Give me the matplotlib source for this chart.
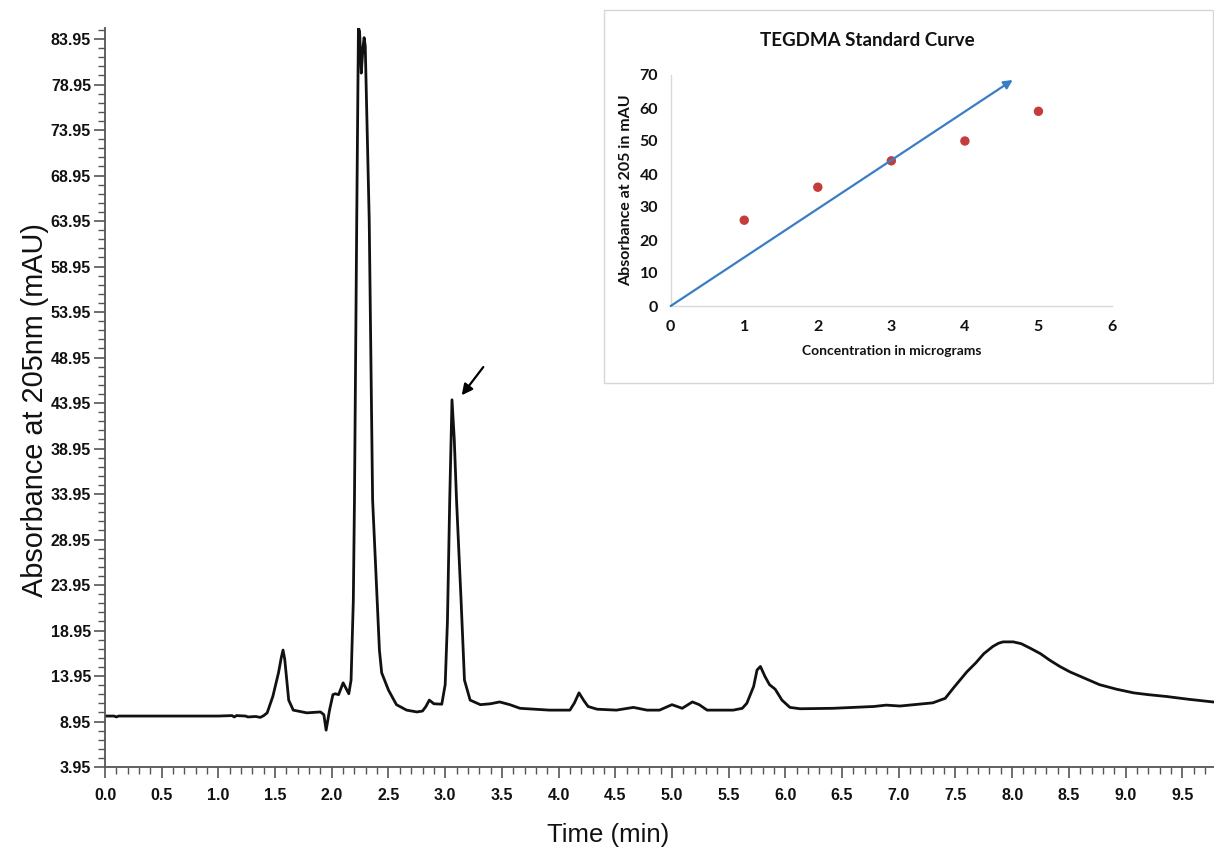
import matplotlib
matplotlib.use("Agg")
import matplotlib.pyplot as plt
from matplotlib.ticker import MultipleLocator, FixedLocator, FormatStrFormatter
from matplotlib.patches import Rectangle

# ---------------- data ----------------
time_min = [0.00, 0.08, 0.10, 0.12, 0.50, 1.00, 1.12, 1.14, 1.16, 1.24, 1.26, 1.33, 1.37,
            1.40, 1.43, 1.48, 1.53, 1.555, 1.57, 1.585, 1.60, 1.62, 1.66, 1.78, 1.90, 1.93,
            1.95, 1.98, 2.01, 2.03, 2.06, 2.10, 2.15, 2.17, 2.19, 2.20, 2.22, 2.235, 2.245,
            2.26, 2.275, 2.285, 2.295, 2.31, 2.33, 2.36, 2.40, 2.42, 2.44, 2.50, 2.57, 2.66,
            2.75, 2.80, 2.83, 2.86, 2.90, 2.97, 3.00, 3.02, 3.04, 3.06, 3.08, 3.10, 3.14,
            3.17, 3.22, 3.31, 3.40, 3.48, 3.57, 3.66, 3.92, 4.10, 4.14, 4.18, 4.22, 4.26,
            4.34, 4.51, 4.66, 4.78, 4.89, 5.00, 5.09, 5.18, 5.24, 5.31, 5.54, 5.62, 5.66, 5.72,
            5.75, 5.78, 5.82, 5.86, 5.91, 5.97, 6.04, 6.13, 6.42, 6.78, 6.89, 7.01, 7.30,
            7.41, 7.48, 7.54, 7.60, 7.68, 7.75, 7.83, 7.88, 7.92, 8.01, 8.08, 8.16, 8.25,
            8.33, 8.42, 8.51, 8.64, 8.77, 8.92, 9.07, 9.20, 9.36, 9.55, 9.77]
absorbance = [9.55, 9.55, 9.45, 9.55, 9.55, 9.55, 9.60, 9.45, 9.60, 9.55, 9.45, 9.50, 9.40,
              9.60, 9.90, 11.7, 14.3, 16.0, 16.8, 15.8, 13.9, 11.3, 10.2, 9.90, 10.0, 9.70,
              8.00, 10.2, 11.9, 12.0, 11.9, 13.2, 12.0, 13.5, 22.3, 33.3, 64.1, 85.2, 84.8,
              80.2, 83.0, 84.1, 83.2, 75.0, 64.1, 33.3, 22.3, 16.8, 14.3, 12.4, 10.8, 10.2,
              10.0, 10.1, 10.6, 11.3, 10.9, 10.85, 13.0, 20.0, 33.3, 44.3, 40.0, 33.3, 22.3,
              13.5, 11.3, 10.8, 10.9, 11.1, 10.8, 10.4, 10.2, 10.2, 11.0, 12.1, 11.3, 10.6,
              10.3, 10.2, 10.5, 10.2, 10.2, 10.8, 10.4, 11.1, 10.8, 10.2, 10.2, 10.4, 10.95, 12.8,
              14.6, 15.0, 13.9, 13.0, 12.5, 11.3, 10.5, 10.35, 10.4, 10.6, 10.75, 10.65, 11.0,
              11.5, 12.6, 13.5, 14.4, 15.4, 16.4, 17.2, 17.55, 17.7, 17.7, 17.5, 17.0, 16.4,
              15.7, 15.0, 14.4, 13.7, 13.0, 12.5, 12.1, 11.9, 11.7, 11.4, 11.1]

y_ticks_main = [3.95, 8.95, 13.95, 18.95, 23.95, 28.95, 33.95, 38.95, 43.95, 48.95,
                53.95, 58.95, 63.95, 68.95, 73.95, 78.95, 83.95]
arrow_tail = (3.336, 47.9)
arrow_head = (3.146, 44.8)

# inset: standard curve
conc = [1, 2, 3, 4, 5]
std_abs = [26, 36, 44, 50, 59]
fit_start = (0, 0)
fit_end = (4.65, 68.5)

# ---------------- figure ----------------
W, H = 1214, 851
fig = plt.figure(figsize=(W / 100, H / 100), dpi=100)
main_font = "Liberation Sans"
inset_font = "Lato"

ax = fig.add_axes([105 / W, 1 - 767 / H, (1214 - 105) / W, (767 - 28) / H])
ax.plot(time_min, absorbance, color="#111111", lw=2.0, solid_joinstyle="round")
ax.set_xlim(0, 9.78)
ax.set_ylim(3.95, 85.16)
for s in ("top", "right"):
    ax.spines[s].set_visible(False)
for s in ("left", "bottom"):
    ax.spines[s].set_color("#555555")
    ax.spines[s].set_linewidth(1.3)
ax.yaxis.set_major_locator(FixedLocator(y_ticks_main))
ax.yaxis.set_minor_locator(MultipleLocator(1.0, offset=0.95))
ax.xaxis.set_major_locator(MultipleLocator(0.5))
ax.xaxis.set_minor_locator(MultipleLocator(0.1))
ax.xaxis.set_major_formatter(FormatStrFormatter("%.1f"))
ax.yaxis.set_major_formatter(FormatStrFormatter("%.2f"))
ax.tick_params(which="major", length=8, width=1.2, color="#555555", direction="out")
ax.tick_params(which="minor", length=5, width=1.0, color="#555555", direction="out")
ax.tick_params(axis="x", which="major", pad=7)
ax.tick_params(axis="y", which="major", pad=2)
for lab in ax.get_xticklabels() + ax.get_yticklabels():
    lab.set_fontfamily(main_font)
    lab.set_fontweight("bold")
    lab.set_fontsize(11.5)
    lab.set_color("#111111")
ax.set_xlabel("Time (min)", fontsize=18.5, family=main_font, color="#111111")
ax.xaxis.set_label_coords((608 - 105) / (1214 - 105), -(835 - 767) / (767 - 28) + 0.0,
                          transform=None)
ax.xaxis.label.set_verticalalignment("center")
ax.set_ylabel("Absorbance at 205nm (mAU)", fontsize=20.8, family=main_font, color="#111111")
ax.yaxis.set_label_coords(-(105 - 35) / (1214 - 105), (767 - 410) / (767 - 28))
ax.yaxis.label.set_verticalalignment("center")
ax.annotate("", xy=arrow_head, xytext=arrow_tail,
            arrowprops=dict(arrowstyle="-|>", color="black", lw=1.6, mutation_scale=16,
                            shrinkA=0, shrinkB=0))

# inset frame
frame = Rectangle((604 / W, 1 - 383 / H), (1213 - 604) / W, (383 - 10) / H,
                  transform=fig.transFigure, facecolor="white", edgecolor="#d6d6d6",
                  lw=1.0, zorder=1)
fig.add_artist(frame)

ins = fig.add_axes([670.7 / W, 1 - 306 / H, (1112 - 670.7) / W, (306 - 75) / H], zorder=2)
ins.set_facecolor("none")
ins.scatter(conc, std_abs, s=46, color="#C43C3C", zorder=3, edgecolors="none")
ins.annotate("", xy=fit_end, xytext=fit_start,
             arrowprops=dict(arrowstyle="-|>", color="#3A7DC4", lw=1.6, mutation_scale=13,
                             shrinkA=0, shrinkB=0))
ins.set_xlim(0, 6)
ins.set_ylim(0, 70)
ins.xaxis.set_major_locator(MultipleLocator(1))
ins.yaxis.set_major_locator(MultipleLocator(10))
for s in ("top", "right"):
    ins.spines[s].set_visible(False)
for s in ("left", "bottom"):
    ins.spines[s].set_color("#d9d9d9")
    ins.spines[s].set_linewidth(1.0)
ins.tick_params(axis="x", length=0, pad=10)
ins.tick_params(axis="y", length=0, pad=9)
for lab in ins.get_xticklabels() + ins.get_yticklabels():
    lab.set_fontfamily(inset_font)
    lab.set_fontweight("bold")
    lab.set_fontsize(11.5)
    lab.set_color("#111111")
ins.set_xlabel("Concentration in micrograms", fontsize=10, fontweight="bold",
               family=inset_font, labelpad=8, color="#111111")
ins.set_ylabel("Absorbance at 205 in mAU", fontsize=11.5, fontweight="bold",
               family=inset_font, labelpad=5, color="#111111")
fig.text(867 / W, 1 - 40 / H, "TEGDMA Standard Curve", ha="center", va="center",
         fontsize=13.5, fontweight="bold", family=inset_font, color="#111111", zorder=3)

fig.savefig("out.png", dpi=100)
